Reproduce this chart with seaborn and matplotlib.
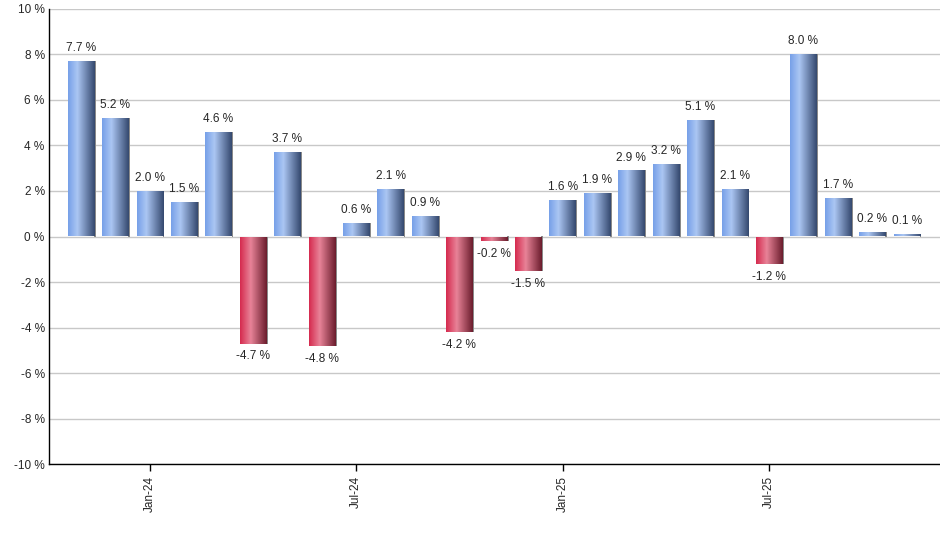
import matplotlib
matplotlib.use("Agg")
import matplotlib.pyplot as plt
from matplotlib.colors import LinearSegmentedColormap
import seaborn as sns
import numpy as np
import pandas as pd

# monthly returns, Nov-23 .. Nov-25
months = ["Nov-23", "Dec-23", "Jan-24", "Feb-24", "Mar-24", "Apr-24", "May-24",
          "Jun-24", "Jul-24", "Aug-24", "Sep-24", "Oct-24", "Nov-24", "Dec-24",
          "Jan-25", "Feb-25", "Mar-25", "Apr-25", "May-25", "Jun-25", "Jul-25",
          "Aug-25", "Sep-25", "Oct-25", "Nov-25"]
returns = [7.7, 5.2, 2.0, 1.5, 4.6, -4.7, 3.7, -4.8, 0.6, 2.1, 0.9, -4.2, -0.2,
           -1.5, 1.6, 1.9, 2.9, 3.2, 5.1, 2.1, -1.2, 8.0, 1.7, 0.2, 0.1]
tick_months = ["Jan-24", "Jul-24", "Jan-25", "Jul-25"]
yticks = list(range(-10, 11, 2))

df = pd.DataFrame({"month": months, "ret": returns})

sns.set_style("white")
plt.rcParams["font.family"] = ["Liberation Sans", "DejaVu Sans"]

fig = plt.figure(figsize=(9.4, 5.5), dpi=100)
ax = fig.add_axes([0.052, 0.156, 0.948, 0.828])

sns.barplot(data=df, x="month", y="ret", order=months, width=0.76,
            color="#7aa3e8", ax=ax, zorder=3)

blue = LinearSegmentedColormap.from_list(
    "blue", [(0, "#76a0e8"), (0.35, "#abc6f3"), (1, "#34486e")])
red = LinearSegmentedColormap.from_list(
    "red", [(0, "#d52a4e"), (0.4, "#e88398"), (1, "#6a1c2c")])
grad = np.linspace(0, 1, 256).reshape(1, -1)

for patch, val in zip(ax.patches, returns):
    x0, y0 = patch.get_x(), patch.get_y()
    w, h = patch.get_width(), patch.get_height()
    patch.set_facecolor("none")
    patch.set_edgecolor("none")
    # thin shadow on the right side
    ax.add_patch(plt.Rectangle((x0 + w, min(y0, y0 + h)), 0.05, abs(h),
                               color="#8a8a8a", zorder=2.9, lw=0))
    im = ax.imshow(grad, cmap=blue if val >= 0 else red, aspect="auto",
                   extent=(x0, x0 + w, min(y0, y0 + h), max(y0, y0 + h)),
                   zorder=3)
    im.set_clip_path(patch)
    if val >= 0:
        ax.annotate(f"{val:.1f} %", (x0 + w / 2, val), xytext=(0, 5),
                    textcoords="offset points", ha="center", va="bottom",
                    fontsize=8.5)
    else:
        ax.annotate(f"{val:.1f} %", (x0 + w / 2, val), xytext=(0, -5),
                    textcoords="offset points", ha="center", va="top",
                    fontsize=8.5)

ax.set_xlim(-0.93, 24.97)
ax.set_ylim(-10, 10)
ax.set_yticks(yticks)
ax.set_yticklabels([f"{t} %" for t in yticks], fontsize=8.5)
ax.set_xticks([months.index(m) for m in tick_months])
ax.set_xticklabels(tick_months, rotation=90, fontsize=8.5)
ax.tick_params(axis="x", direction="out", length=5, width=1, color="black",
               bottom=True)
ax.tick_params(axis="y", length=0, pad=3)
ax.set_xlabel("")
ax.set_ylabel("")
ax.yaxis.grid(True, color="#c8c8c8", lw=1, zorder=0)
ax.set_axisbelow(True)
for s in ["top", "right"]:
    ax.spines[s].set_visible(False)
for s in ["left", "bottom"]:
    ax.spines[s].set_color("black")
    ax.spines[s].set_linewidth(1)

fig.savefig("out.png", dpi=100)
